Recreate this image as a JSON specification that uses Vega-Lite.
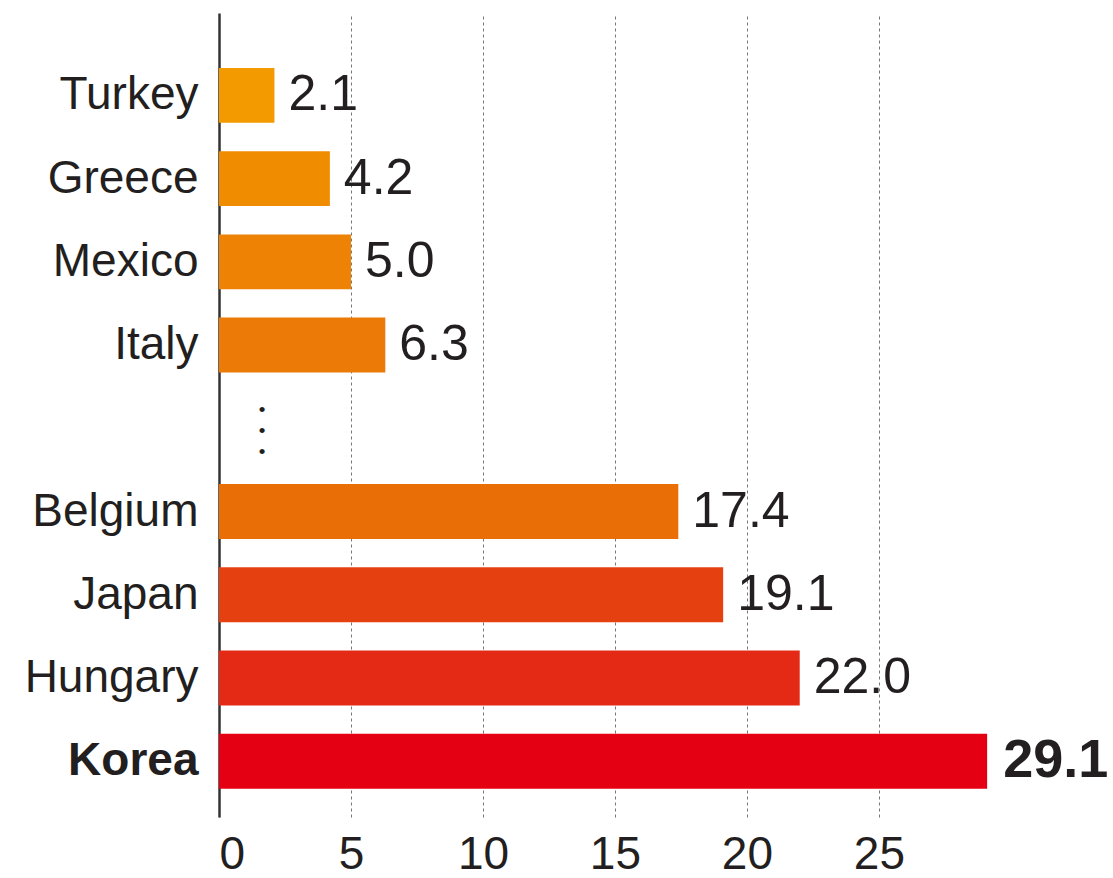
{
  "$schema": "https://vega.github.io/schema/vega-lite/v6.json",
  "width": 879,
  "height": 804,
  "autosize": "none",
  "padding": {"left": 219, "top": 13, "right": 15, "bottom": 61},
  "background": "white",
  "config": {"view": {"stroke": null}, "font": "Liberation Sans"},
  "datasets": {
    "bars": [
      {"country": "Turkey", "value": 2.1},
      {"country": "Greece", "value": 4.2},
      {"country": "Mexico", "value": 5.0},
      {"country": "Italy", "value": 6.3},
      {"country": "Belgium", "value": 17.4},
      {"country": "Japan", "value": 19.1},
      {"country": "Hungary", "value": 22.0},
      {"country": "Korea", "value": 29.1}
    ],
    "gap": [{"country": " ", "x": 1.63, "dots": "•\n•\n•"}]
  },
  "encoding": {
    "y": {
      "field": "country",
      "type": "nominal",
      "scale": {
        "domain": ["Turkey", "Greece", "Mexico", "Italy", " ", "Belgium", "Japan", "Hungary", "Korea"],
        "paddingInner": 0.34,
        "paddingOuter": 0.5,
        "align": 0.66
      },
      "axis": {
        "title": null,
        "domain": true,
        "domainColor": "#333333",
        "domainWidth": 2.5,
        "ticks": false,
        "grid": false,
        "labelFontSize": 46,
        "labelColor": "#231f20",
        "labelPadding": 21,
        "labelFontWeight": {"condition": {"test": "datum.value === 'Korea'", "value": "bold"}, "value": "normal"}
      }
    }
  },
  "layer": [
    {
      "data": {"name": "bars"},
      "mark": {"type": "bar"},
      "encoding": {
        "x": {
          "field": "value",
          "type": "quantitative",
          "scale": {"domain": [0, 33.3], "nice": false, "zero": true},
          "axis": {
            "title": null,
            "domain": false,
            "ticks": false,
            "grid": true,
            "gridDash": [3, 3],
            "gridColor": "#777777",
            "gridWidth": 1,
            "values": [0, 5, 10, 15, 20, 25],
            "labelFontSize": 46,
            "labelColor": "#231f20",
            "labelPadding": 15
          }
        },
        "color": {
          "field": "country",
          "type": "nominal",
          "scale": {
            "domain": ["Turkey", "Greece", "Mexico", "Italy", "Belgium", "Japan", "Hungary", "Korea"],
            "range": ["#f29a00", "#f08c00", "#ee8204", "#ec7a06", "#ea6e06", "#e5400f", "#e42a15", "#e40012"]
          },
          "legend": null
        }
      }
    },
    {
      "data": {"name": "bars"},
      "transform": [{"filter": "datum.country !== 'Korea'"}],
      "mark": {"type": "text", "align": "left", "baseline": "middle", "dx": 14, "fontSize": 50, "color": "#231f20"},
      "encoding": {
        "x": {"field": "value", "type": "quantitative"},
        "text": {"field": "value", "type": "quantitative", "format": ".1f"}
      }
    },
    {
      "data": {"name": "bars"},
      "transform": [{"filter": "datum.country === 'Korea'"}],
      "mark": {"type": "text", "align": "left", "baseline": "middle", "dx": 16, "fontSize": 54, "fontWeight": "bold", "color": "#231f20"},
      "encoding": {
        "x": {"field": "value", "type": "quantitative"},
        "text": {"field": "value", "type": "quantitative", "format": ".1f"}
      }
    },
    {
      "data": {"name": "gap"},
      "mark": {"type": "text", "align": "center", "baseline": "middle", "fontSize": 19, "lineHeight": 21, "lineBreak": "\n", "dy": -18, "color": "#231f20"},
      "encoding": {
        "x": {"field": "x", "type": "quantitative"},
        "text": {"field": "dots", "type": "nominal"}
      }
    }
  ]
}
